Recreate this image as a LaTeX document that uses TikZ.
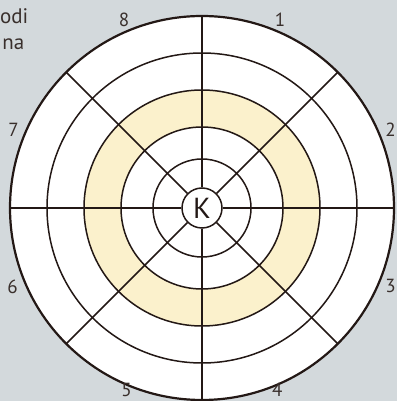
\documentclass[tikz,border=0pt]{standalone}
\usepackage{fontspec}
\setmainfont{PT Sans}
\definecolor{bgcol}{HTML}{D3D9DC}
\definecolor{ringcol}{HTML}{FBF1CC}
\definecolor{inkcol}{HTML}{231815}
\tikzset{
  numlabel/.style={font=\fontsize{19}{19}\selectfont, text=inkcol!90, inner sep=0pt},
  spoke/.style={line width=1.5pt}
}

\begin{document}
\begin{tikzpicture}[x=1pt, y=1pt, color=inkcol, line width=1.5pt]
	% tło i ramka obrazka
	\fill[bgcol] (0,0) rectangle (397,401);
	\useasboundingbox (0,0) rectangle (397,401);
	\node[numlabel, font=\fontsize{21}{21}\selectfont, anchor=base east] (txtA) at (29,377) {odi};
	\node[numlabel, font=\fontsize{21}{21}\selectfont, anchor=base east] (txtB) at (25,351) {na};
	\begin{scope}[shift={(202,193)}]
		% tarcza z pierścieniami; pierścień między 81 a 118 zaznaczony
		\fill[white] (0,0) circle (192);
		\fill[ringcol, even odd rule] (0,0) circle (118) (0,0) circle (81);
		\foreach \r in {49,81,118,155} \draw (0,0) circle (\r);
		\draw[line width=2.2pt] (0,0) circle (192);
		\node[circle, draw, fill=white, minimum size=40pt, inner sep=0pt,
			font=\fontsize{29}{29}\selectfont] (K) at (0,0) {K};
		% osiem promieni
		\foreach \a in {0,45,...,315} {
			\coordinate (e\a) at (\a:192);
			\draw[spoke] (K.\a) -- (e\a);
		}
		% numery sektorów
		\foreach \n/\a/\d in {1/67.5/204,2/22.5/204,3/-22.5/204,4/-67.5/197,5/-112.5/197,6/-157.5/205,7/157.5/204,8/112.5/204}
			\node[numlabel] (n\n) at (\a:\d) {\n};
	\end{scope}
\end{tikzpicture}
\end{document}
